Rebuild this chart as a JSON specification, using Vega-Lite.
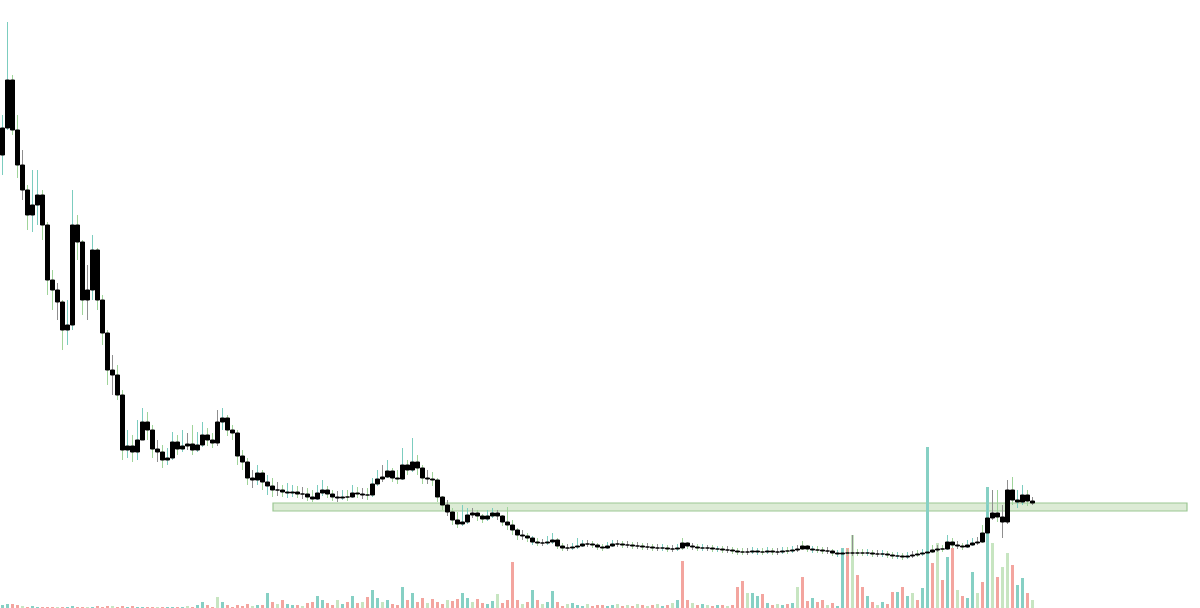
{
"$schema":"https://vega.github.io/schema/vega-lite/v6.json",
"width":1200,"height":608,"padding":0,
"autosize":{"type":"none"},
"background":"white",
"config":{"view":{"stroke":null}},
"datasets":{
"zone":[{"x1":54.1,"x2":236.9,"top":503,"bottom":511}],
"candles":[
{"i":0,"o":155,"h":115,"l":175,"c":128,"v":3,"t":"u"},
{"i":1,"o":128,"h":22,"l":130,"c":80,"v":4,"t":"u"},
{"i":2,"o":80,"h":75,"l":135,"c":130,"v":4,"t":"d"},
{"i":3,"o":130,"h":115,"l":178,"c":165,"v":3,"t":"d"},
{"i":4,"o":165,"h":150,"l":200,"c":190,"v":2,"t":"n"},
{"i":5,"o":190,"h":185,"l":230,"c":215,"v":1,"t":"d"},
{"i":6,"o":215,"h":170,"l":232,"c":205,"v":2,"t":"u"},
{"i":7,"o":205,"h":170,"l":225,"c":195,"v":1,"t":"u"},
{"i":8,"o":195,"h":190,"l":240,"c":225,"v":1,"t":"d"},
{"i":9,"o":225,"h":222,"l":295,"c":280,"v":1,"t":"d"},
{"i":10,"o":280,"h":270,"l":310,"c":290,"v":1,"t":"d"},
{"i":11,"o":290,"h":283,"l":320,"c":302,"v":1,"t":"n"},
{"i":12,"o":302,"h":300,"l":350,"c":330,"v":1,"t":"d"},
{"i":13,"o":330,"h":300,"l":345,"c":325,"v":1,"t":"u"},
{"i":14,"o":325,"h":190,"l":330,"c":225,"v":2,"t":"u"},
{"i":15,"o":225,"h":215,"l":260,"c":242,"v":1,"t":"d"},
{"i":16,"o":242,"h":240,"l":315,"c":300,"v":1,"t":"d"},
{"i":17,"o":300,"h":265,"l":320,"c":290,"v":1,"t":"n"},
{"i":18,"o":290,"h":235,"l":300,"c":250,"v":1,"t":"u"},
{"i":19,"o":250,"h":248,"l":310,"c":300,"v":2,"t":"d"},
{"i":20,"o":300,"h":295,"l":345,"c":333,"v":1,"t":"d"},
{"i":21,"o":333,"h":330,"l":385,"c":370,"v":2,"t":"d"},
{"i":22,"o":370,"h":355,"l":395,"c":375,"v":2,"t":"n"},
{"i":23,"o":375,"h":365,"l":400,"c":395,"v":1,"t":"d"},
{"i":24,"o":395,"h":390,"l":460,"c":450,"v":2,"t":"d"},
{"i":25,"o":450,"h":430,"l":458,"c":446,"v":1,"t":"u"},
{"i":26,"o":446,"h":435,"l":462,"c":452,"v":2,"t":"d"},
{"i":27,"o":452,"h":420,"l":460,"c":440,"v":1,"t":"u"},
{"i":28,"o":440,"h":408,"l":440,"c":422,"v":1,"t":"u"},
{"i":29,"o":422,"h":412,"l":440,"c":430,"v":1,"t":"d"},
{"i":30,"o":430,"h":425,"l":458,"c":449,"v":1,"t":"d"},
{"i":31,"o":449,"h":440,"l":462,"c":452,"v":1,"t":"n"},
{"i":32,"o":452,"h":445,"l":468,"c":460,"v":1,"t":"d"},
{"i":33,"o":460,"h":448,"l":465,"c":458,"v":1,"t":"u"},
{"i":34,"o":458,"h":432,"l":460,"c":442,"v":1,"t":"u"},
{"i":35,"o":442,"h":435,"l":455,"c":449,"v":1,"t":"d"},
{"i":36,"o":449,"h":430,"l":452,"c":446,"v":1,"t":"u"},
{"i":37,"o":446,"h":433,"l":450,"c":444,"v":2,"t":"n"},
{"i":38,"o":444,"h":425,"l":455,"c":450,"v":1,"t":"d"},
{"i":39,"o":450,"h":432,"l":452,"c":445,"v":3,"t":"u"},
{"i":40,"o":445,"h":422,"l":447,"c":435,"v":6,"t":"u"},
{"i":41,"o":435,"h":428,"l":446,"c":440,"v":3,"t":"d"},
{"i":42,"o":440,"h":433,"l":448,"c":443,"v":1,"t":"d"},
{"i":43,"o":443,"h":410,"l":446,"c":422,"v":11,"t":"n"},
{"i":44,"o":422,"h":408,"l":430,"c":418,"v":6,"t":"u"},
{"i":45,"o":418,"h":415,"l":436,"c":430,"v":3,"t":"d"},
{"i":46,"o":430,"h":425,"l":440,"c":433,"v":1,"t":"d"},
{"i":47,"o":433,"h":430,"l":465,"c":456,"v":3,"t":"d"},
{"i":48,"o":456,"h":450,"l":470,"c":462,"v":2,"t":"d"},
{"i":49,"o":462,"h":458,"l":485,"c":478,"v":4,"t":"d"},
{"i":50,"o":478,"h":470,"l":488,"c":480,"v":2,"t":"n"},
{"i":51,"o":480,"h":465,"l":485,"c":473,"v":3,"t":"u"},
{"i":52,"o":473,"h":470,"l":490,"c":482,"v":3,"t":"d"},
{"i":53,"o":482,"h":475,"l":495,"c":486,"v":15,"t":"u"},
{"i":54,"o":486,"h":478,"l":497,"c":490,"v":6,"t":"d"},
{"i":55,"o":490,"h":482,"l":496,"c":490,"v":4,"t":"n"},
{"i":56,"o":490,"h":485,"l":497,"c":492,"v":8,"t":"d"},
{"i":57,"o":492,"h":483,"l":498,"c":493,"v":4,"t":"u"},
{"i":58,"o":493,"h":485,"l":497,"c":492,"v":3,"t":"u"},
{"i":59,"o":492,"h":486,"l":498,"c":494,"v":3,"t":"d"},
{"i":60,"o":494,"h":487,"l":499,"c":494,"v":2,"t":"n"},
{"i":61,"o":494,"h":488,"l":501,"c":497,"v":5,"t":"d"},
{"i":62,"o":497,"h":490,"l":502,"c":499,"v":6,"t":"d"},
{"i":63,"o":499,"h":485,"l":500,"c":493,"v":12,"t":"u"},
{"i":64,"o":493,"h":480,"l":496,"c":490,"v":8,"t":"u"},
{"i":65,"o":490,"h":486,"l":498,"c":494,"v":5,"t":"d"},
{"i":66,"o":494,"h":490,"l":501,"c":497,"v":3,"t":"d"},
{"i":67,"o":497,"h":491,"l":502,"c":498,"v":8,"t":"n"},
{"i":68,"o":498,"h":490,"l":500,"c":497,"v":4,"t":"u"},
{"i":69,"o":497,"h":490,"l":501,"c":497,"v":6,"t":"d"},
{"i":70,"o":497,"h":485,"l":498,"c":493,"v":12,"t":"u"},
{"i":71,"o":493,"h":487,"l":498,"c":494,"v":5,"t":"d"},
{"i":72,"o":494,"h":488,"l":499,"c":495,"v":6,"t":"n"},
{"i":73,"o":495,"h":488,"l":500,"c":495,"v":11,"t":"d"},
{"i":74,"o":495,"h":478,"l":497,"c":484,"v":18,"t":"u"},
{"i":75,"o":484,"h":470,"l":486,"c":479,"v":10,"t":"u"},
{"i":76,"o":479,"h":465,"l":482,"c":477,"v":6,"t":"n"},
{"i":77,"o":477,"h":460,"l":478,"c":471,"v":8,"t":"u"},
{"i":78,"o":471,"h":468,"l":482,"c":478,"v":4,"t":"d"},
{"i":79,"o":478,"h":470,"l":484,"c":479,"v":3,"t":"d"},
{"i":80,"o":479,"h":448,"l":480,"c":465,"v":21,"t":"u"},
{"i":81,"o":465,"h":460,"l":475,"c":470,"v":8,"t":"d"},
{"i":82,"o":470,"h":438,"l":472,"c":462,"v":15,"t":"u"},
{"i":83,"o":462,"h":455,"l":475,"c":468,"v":6,"t":"d"},
{"i":84,"o":468,"h":465,"l":484,"c":478,"v":10,"t":"d"},
{"i":85,"o":478,"h":470,"l":484,"c":479,"v":5,"t":"n"},
{"i":86,"o":479,"h":472,"l":486,"c":480,"v":9,"t":"d"},
{"i":87,"o":480,"h":478,"l":502,"c":497,"v":6,"t":"d"},
{"i":88,"o":497,"h":496,"l":510,"c":505,"v":4,"t":"d"},
{"i":89,"o":505,"h":500,"l":516,"c":512,"v":8,"t":"n"},
{"i":90,"o":512,"h":508,"l":525,"c":520,"v":7,"t":"d"},
{"i":91,"o":520,"h":512,"l":528,"c":524,"v":9,"t":"d"},
{"i":92,"o":524,"h":505,"l":526,"c":522,"v":15,"t":"u"},
{"i":93,"o":522,"h":508,"l":524,"c":515,"v":10,"t":"u"},
{"i":94,"o":515,"h":508,"l":518,"c":513,"v":6,"t":"n"},
{"i":95,"o":513,"h":510,"l":521,"c":516,"v":9,"t":"d"},
{"i":96,"o":516,"h":514,"l":523,"c":519,"v":5,"t":"d"},
{"i":97,"o":519,"h":510,"l":521,"c":516,"v":4,"t":"u"},
{"i":98,"o":516,"h":508,"l":518,"c":513,"v":7,"t":"u"},
{"i":99,"o":513,"h":510,"l":520,"c":516,"v":14,"t":"n"},
{"i":100,"o":516,"h":515,"l":526,"c":522,"v":5,"t":"d"},
{"i":101,"o":522,"h":507,"l":530,"c":525,"v":8,"t":"d"},
{"i":102,"o":525,"h":520,"l":535,"c":530,"v":46,"t":"d"},
{"i":103,"o":530,"h":528,"l":540,"c":535,"v":8,"t":"d"},
{"i":104,"o":535,"h":530,"l":540,"c":536,"v":4,"t":"n"},
{"i":105,"o":536,"h":533,"l":542,"c":538,"v":6,"t":"d"},
{"i":106,"o":538,"h":536,"l":545,"c":542,"v":18,"t":"u"},
{"i":107,"o":542,"h":538,"l":546,"c":543,"v":8,"t":"d"},
{"i":108,"o":543,"h":539,"l":546,"c":543,"v":4,"t":"n"},
{"i":109,"o":543,"h":536,"l":545,"c":542,"v":6,"t":"u"},
{"i":110,"o":542,"h":533,"l":544,"c":540,"v":17,"t":"u"},
{"i":111,"o":540,"h":538,"l":549,"c":546,"v":6,"t":"d"},
{"i":112,"o":546,"h":543,"l":551,"c":548,"v":2,"t":"d"},
{"i":113,"o":548,"h":544,"l":551,"c":548,"v":4,"t":"n"},
{"i":114,"o":548,"h":543,"l":550,"c":547,"v":5,"t":"u"},
{"i":115,"o":547,"h":538,"l":549,"c":546,"v":3,"t":"u"},
{"i":116,"o":546,"h":540,"l":547,"c":544,"v":2,"t":"u"},
{"i":117,"o":544,"h":540,"l":547,"c":544,"v":4,"t":"n"},
{"i":118,"o":544,"h":541,"l":548,"c":545,"v":2,"t":"d"},
{"i":119,"o":545,"h":543,"l":550,"c":547,"v":3,"t":"d"},
{"i":120,"o":547,"h":544,"l":551,"c":548,"v":3,"t":"d"},
{"i":121,"o":548,"h":542,"l":549,"c":546,"v":2,"t":"u"},
{"i":122,"o":546,"h":540,"l":547,"c":544,"v":3,"t":"u"},
{"i":123,"o":544,"h":540,"l":547,"c":544,"v":4,"t":"n"},
{"i":124,"o":544,"h":541,"l":548,"c":545,"v":2,"t":"d"},
{"i":125,"o":545,"h":541,"l":548,"c":545,"v":3,"t":"n"},
{"i":126,"o":545,"h":542,"l":549,"c":546,"v":2,"t":"d"},
{"i":127,"o":546,"h":542,"l":549,"c":546,"v":4,"t":"n"},
{"i":128,"o":546,"h":543,"l":550,"c":547,"v":3,"t":"d"},
{"i":129,"o":547,"h":543,"l":550,"c":547,"v":2,"t":"n"},
{"i":130,"o":547,"h":544,"l":551,"c":548,"v":3,"t":"d"},
{"i":131,"o":548,"h":544,"l":551,"c":548,"v":4,"t":"n"},
{"i":132,"o":548,"h":544,"l":551,"c":548,"v":2,"t":"u"},
{"i":133,"o":548,"h":545,"l":552,"c":549,"v":3,"t":"d"},
{"i":134,"o":549,"h":545,"l":552,"c":549,"v":5,"t":"n"},
{"i":135,"o":549,"h":544,"l":551,"c":548,"v":8,"t":"u"},
{"i":136,"o":548,"h":538,"l":550,"c":543,"v":47,"t":"d"},
{"i":137,"o":543,"h":542,"l":549,"c":546,"v":8,"t":"d"},
{"i":138,"o":546,"h":543,"l":550,"c":547,"v":5,"t":"n"},
{"i":139,"o":547,"h":544,"l":551,"c":548,"v":3,"t":"d"},
{"i":140,"o":548,"h":544,"l":551,"c":548,"v":4,"t":"u"},
{"i":141,"o":548,"h":545,"l":551,"c":548,"v":3,"t":"n"},
{"i":142,"o":548,"h":545,"l":552,"c":549,"v":2,"t":"d"},
{"i":143,"o":549,"h":546,"l":552,"c":549,"v":3,"t":"u"},
{"i":144,"o":549,"h":546,"l":553,"c":550,"v":3,"t":"d"},
{"i":145,"o":550,"h":546,"l":553,"c":550,"v":2,"t":"n"},
{"i":146,"o":550,"h":547,"l":554,"c":551,"v":3,"t":"d"},
{"i":147,"o":551,"h":548,"l":555,"c":552,"v":21,"t":"d"},
{"i":148,"o":552,"h":548,"l":555,"c":552,"v":27,"t":"d"},
{"i":149,"o":552,"h":548,"l":555,"c":552,"v":15,"t":"n"},
{"i":150,"o":552,"h":547,"l":554,"c":551,"v":15,"t":"u"},
{"i":151,"o":551,"h":548,"l":555,"c":552,"v":12,"t":"u"},
{"i":152,"o":552,"h":548,"l":555,"c":552,"v":14,"t":"d"},
{"i":153,"o":552,"h":547,"l":554,"c":551,"v":5,"t":"u"},
{"i":154,"o":551,"h":548,"l":555,"c":552,"v":3,"t":"d"},
{"i":155,"o":552,"h":548,"l":555,"c":552,"v":4,"t":"n"},
{"i":156,"o":552,"h":547,"l":554,"c":551,"v":3,"t":"u"},
{"i":157,"o":551,"h":547,"l":554,"c":551,"v":4,"t":"d"},
{"i":158,"o":551,"h":546,"l":553,"c":550,"v":5,"t":"u"},
{"i":159,"o":550,"h":545,"l":552,"c":549,"v":21,"t":"n"},
{"i":160,"o":549,"h":541,"l":550,"c":546,"v":31,"t":"d"},
{"i":161,"o":546,"h":545,"l":552,"c":549,"v":7,"t":"d"},
{"i":162,"o":549,"h":546,"l":553,"c":550,"v":10,"t":"u"},
{"i":163,"o":550,"h":546,"l":553,"c":550,"v":6,"t":"d"},
{"i":164,"o":550,"h":547,"l":554,"c":551,"v":8,"t":"d"},
{"i":165,"o":551,"h":547,"l":554,"c":551,"v":3,"t":"n"},
{"i":166,"o":551,"h":549,"l":556,"c":553,"v":5,"t":"d"},
{"i":167,"o":553,"h":550,"l":557,"c":554,"v":2,"t":"u"},
{"i":168,"o":554,"h":549,"l":556,"c":553,"v":60,"t":"u"},
{"i":169,"o":553,"h":549,"l":556,"c":553,"v":60,"t":"d"},
{"i":170,"o":553,"h":535,"l":556,"c":553,"v":73,"t":"n"},
{"i":171,"o":553,"h":549,"l":556,"c":553,"v":33,"t":"d"},
{"i":172,"o":553,"h":549,"l":556,"c":553,"v":21,"t":"d"},
{"i":173,"o":553,"h":549,"l":556,"c":553,"v":12,"t":"u"},
{"i":174,"o":553,"h":550,"l":557,"c":554,"v":6,"t":"d"},
{"i":175,"o":554,"h":550,"l":557,"c":554,"v":3,"t":"n"},
{"i":176,"o":554,"h":550,"l":557,"c":554,"v":6,"t":"u"},
{"i":177,"o":554,"h":551,"l":558,"c":555,"v":4,"t":"d"},
{"i":178,"o":555,"h":552,"l":559,"c":556,"v":16,"t":"d"},
{"i":179,"o":556,"h":552,"l":559,"c":556,"v":16,"t":"u"},
{"i":180,"o":556,"h":553,"l":560,"c":557,"v":21,"t":"d"},
{"i":181,"o":557,"h":552,"l":559,"c":556,"v":12,"t":"u"},
{"i":182,"o":556,"h":551,"l":558,"c":555,"v":15,"t":"n"},
{"i":183,"o":555,"h":550,"l":557,"c":554,"v":8,"t":"d"},
{"i":184,"o":554,"h":549,"l":556,"c":553,"v":20,"t":"u"},
{"i":185,"o":553,"h":540,"l":555,"c":552,"v":161,"t":"u"},
{"i":186,"o":552,"h":545,"l":553,"c":550,"v":45,"t":"d"},
{"i":187,"o":550,"h":545,"l":552,"c":549,"v":65,"t":"n"},
{"i":188,"o":549,"h":545,"l":552,"c":549,"v":28,"t":"d"},
{"i":189,"o":549,"h":535,"l":550,"c":542,"v":51,"t":"u"},
{"i":190,"o":542,"h":538,"l":548,"c":545,"v":60,"t":"d"},
{"i":191,"o":545,"h":541,"l":549,"c":546,"v":18,"t":"n"},
{"i":192,"o":546,"h":543,"l":550,"c":547,"v":12,"t":"d"},
{"i":193,"o":547,"h":540,"l":548,"c":545,"v":10,"t":"u"},
{"i":194,"o":545,"h":538,"l":546,"c":543,"v":36,"t":"u"},
{"i":195,"o":543,"h":537,"l":545,"c":542,"v":15,"t":"n"},
{"i":196,"o":542,"h":525,"l":543,"c":533,"v":26,"t":"d"},
{"i":197,"o":533,"h":505,"l":535,"c":518,"v":121,"t":"u"},
{"i":198,"o":518,"h":490,"l":520,"c":513,"v":65,"t":"n"},
{"i":199,"o":513,"h":490,"l":522,"c":517,"v":31,"t":"d"},
{"i":200,"o":517,"h":505,"l":538,"c":522,"v":41,"t":"n"},
{"i":201,"o":522,"h":480,"l":524,"c":490,"v":55,"t":"n"},
{"i":202,"o":490,"h":477,"l":505,"c":500,"v":43,"t":"d"},
{"i":203,"o":500,"h":490,"l":508,"c":502,"v":23,"t":"u"},
{"i":204,"o":502,"h":485,"l":505,"c":495,"v":30,"t":"u"},
{"i":205,"o":495,"h":490,"l":506,"c":501,"v":15,"t":"d"},
{"i":206,"o":501,"h":497,"l":505,"c":503,"v":8,"t":"n"}
]},
"resolve":{"scale":{"y":"independent"}},
"layer":[
{"data":{"name":"zone"},
 "mark":{"type":"rect","fill":"#dcebd5","stroke":"#9cc793","strokeWidth":1.2},
 "encoding":{
  "x":{"field":"x1","type":"quantitative","scale":{"domain":[-0.5,239.5],"nice":false,"zero":false,"padding":0},"axis":null},
  "x2":{"field":"x2"},
  "y":{"field":"top","type":"quantitative","scale":{"domain":[0,608],"reverse":true,"nice":false,"zero":false,"padding":0},"axis":null},
  "y2":{"field":"bottom"}}},
{"data":{"name":"candles"},
 "mark":{"type":"bar","size":3,"orient":"vertical"},
 "encoding":{
  "x":{"field":"i","type":"quantitative","scale":{"domain":[-0.5,239.5],"nice":false,"zero":false,"padding":0},"axis":null},
  "y":{"field":"v","type":"quantitative","scale":{"domain":[0,608],"nice":false,"padding":0},"axis":null},
  "y2":{"datum":0},
  "color":{"field":"t","type":"nominal","legend":null,"scale":{"domain":["u","d","n"],"range":["#86d0c4","#f3a59f","#c7e5c1"]}}}},
{"data":{"name":"candles"},
 "layer":[
  {"mark":{"type":"rule","strokeWidth":1},
   "encoding":{
    "x":{"field":"i","type":"quantitative","scale":{"domain":[-0.5,239.5],"nice":false,"zero":false,"padding":0},"axis":null},
    "y":{"field":"h","type":"quantitative","scale":{"domain":[0,608],"reverse":true,"nice":false,"zero":false,"padding":0},"axis":null},
    "y2":{"field":"l"},
    "stroke":{"field":"t","type":"nominal","legend":null,"scale":{"domain":["u","d","n"],"range":["#7ccdbf","#9fd49a","#8f8f8f"]}}}},
  {"mark":{"type":"bar","size":4,"fill":"#000000","stroke":"#000000","strokeWidth":1},
   "encoding":{
    "x":{"field":"i","type":"quantitative","axis":null},
    "y":{"field":"o","type":"quantitative","axis":null},
    "y2":{"field":"c"}}}
 ]}
]
}
